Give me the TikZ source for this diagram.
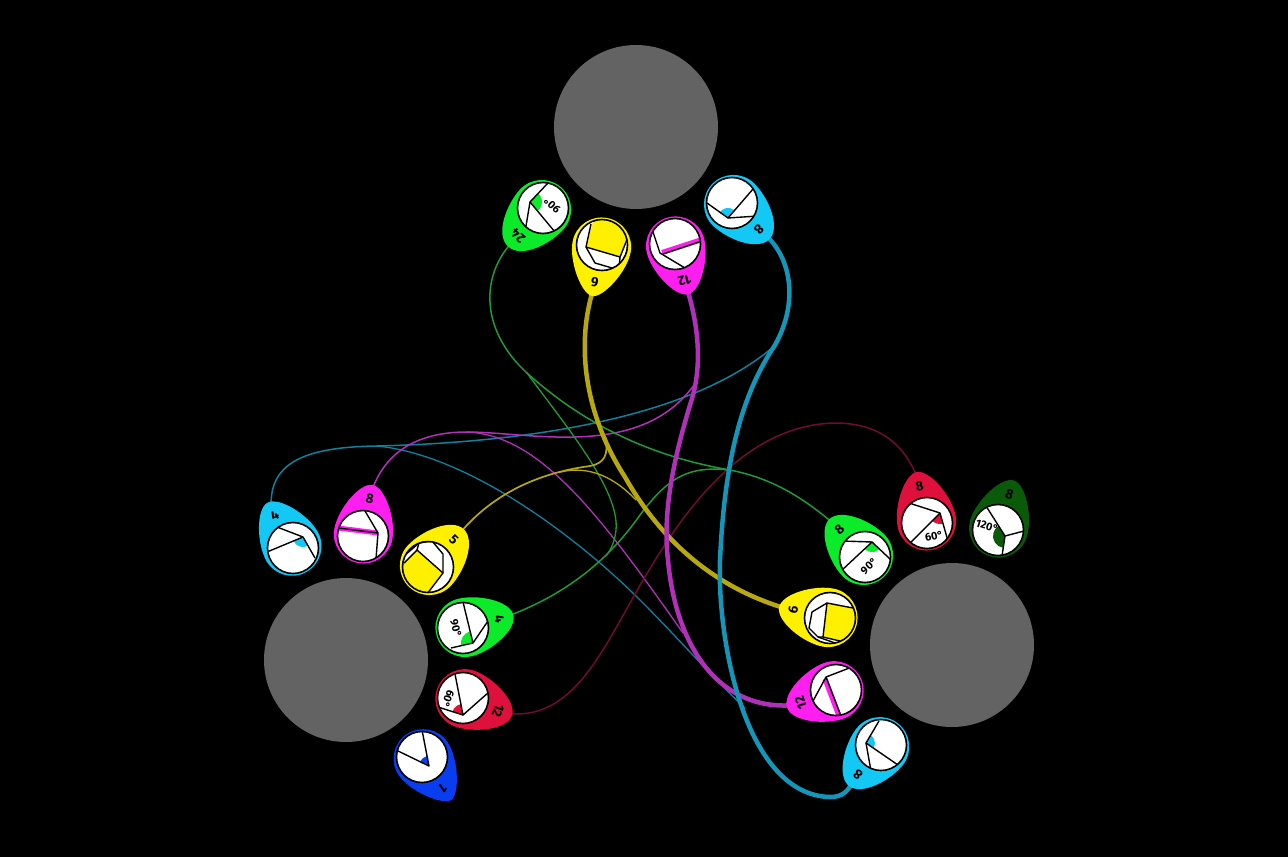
\documentclass[tikz,border=0pt]{standalone}
\usepackage{fontspec}
\setmainfont{Fira Sans}
\usetikzlibrary{backgrounds}
\definecolor{pGreen}{HTML}{0CEB2A}
\definecolor{pYellow}{HTML}{FFF000}
\definecolor{pMag}{HTML}{FF1EF0}
\definecolor{pCyan}{HTML}{14C8F5}
\definecolor{pRed}{HTML}{E0103C}
\definecolor{pBlue}{HTML}{0A3CF0}
\definecolor{pDark}{HTML}{0A5A0A}
\definecolor{hubc}{HTML}{636363}
\definecolor{cGreen}{HTML}{1F9A35}
\definecolor{cYellow}{HTML}{B8A810}
\definecolor{cMag}{HTML}{B030B8}
\definecolor{cTeal}{HTML}{10809F}
\definecolor{cCyan}{HTML}{1595B8}
\definecolor{cRed}{HTML}{700C30}
\tikzset{
  hub/.style={circle,fill=hubc,minimum size=164pt,inner sep=0pt},
  lab/.style={font=\fontsize{13.5}{14}\selectfont\bfseries,text=black,inner sep=0pt},
  angtxt/.style={font=\fontsize{11}{11}\selectfont\bfseries,text=black,inner sep=0pt},
  fold/.style={draw=black,line width=1.4pt,line join=round},
  conn/.style={line cap=round,line join=round},
}
% [tip control] name, cx, cy, rot, colour, label, interior
\newcommand\petal[8][16]{%
  \begin{scope}[shift={(#3,#4)},rotate=#5,y=1pt]
    \fill[#6] (29.5,2) .. controls (29.5,22) and (#1,52) .. (0,52)
       .. controls (-#1,52) and (-29.5,22) .. (-29.5,2)
       arc[start angle=180,end angle=360,radius=29.5pt] -- cycle;
    \coordinate (#2) at (0,44);
    \node[lab,rotate=#5] (#2l) at (0,37.5) {#7};
  \end{scope}
  \begin{scope}
    \clip (#3,#4) circle[radius=25.5pt];
    \fill[white] (#3,#4) circle[radius=25.5pt];
    #8
  \end{scope}
  \draw[black,line width=1.6pt] (#3,#4) circle[radius=25.5pt];
}
\newcommand\wdg[6]{%
  \begin{scope}[shift={(#1,#2)},y=1pt]
    \fill[#6] (0,0) -- (#3:#5) arc[start angle=#3,end angle=#4,radius=#5pt] -- cycle;
  \end{scope}}
\begin{document}
\begin{tikzpicture}[x=1pt,y=-1pt]
\useasboundingbox (0,0) rectangle (1288,857);
\node[hub] (hubT) at (636,127) {};
\node[hub] (hubL) at (346,660) {};
\node[hub] (hubR) at (952,645) {};

% top group
\petal[18]{gA}{543}{208}{138}{pGreen}{24}{%
  \wdg{530}{202}{-50}{46}{12}{pGreen}
  \draw[fold] (548,183) -- (530,202) -- (555,232);
  \draw[fold] (530,202) -- (526,226);
  \node[angtxt,rotate=138] (gAt) at (552,205) {90°};}
\petal[11]{yA}{602}{245}{169}{pYellow}{6}{%
  \fill[pYellow] (586,247) -- (595,215) -- (632,226) -- (628,237) -- (620,257) -- cycle;
  \draw[fold] (591,224) -- (586,247) -- (620,257) -- (628,237);
  \draw[fold] (586,247) -- (595,263) -- (619,270) -- (620,257);}
\petal[13]{mA}{675}{244}{195}{pMag}{12}{%
  \draw[pMag,line width=5pt] (662,252.5) -- (702,239.5);
  \draw[fold] (653,232) -- (660,253) -- (685,268);
  \draw[fold] (663,254) -- (702,241);}
\petal[17]{cA}{732}{203}{226}{pCyan}{8}{%
  \wdg{728}{218}{49}{144}{10}{pCyan}
  \draw[fold] (707,203) -- (728,218) -- (753,189);
  \draw[fold] (728,218) -- (758,216);}

% left group
\petal[13]{cB}{293}{548}{29.5}{pCyan}{4}{%
  \wdg{303}{537}{202}{300}{10}{pCyan}
  \draw[fold] (277,527) -- (303,537) -- (315,558);
  \draw[fold] (303,537) -- (267,552);}
\petal[13]{mB}{363}{536}{-10.6}{pMag}{8}{%
  \draw[pMag,line width=5pt] (338,528) -- (378,533);
  \draw[fold] (365,511) -- (378,533) -- (376,559);
  \draw[fold] (338,528) -- (378,533);}
\petal[17]{yB}{428}{567}{-43.5}{pYellow}{5}{%
  \fill[pYellow] (417,550) -- (443,573) -- (427,595) -- (405,597) -- (396,570) -- (404,563) -- cycle;
  \draw[fold] (404,563) -- (417,550) -- (443,573) -- (427,594);
  \draw[fold] (417,550) -- (419,543) -- (432,541) -- (443,554) -- (443,573);
  \draw[fold] (419,543) -- (404,556);}
\petal[15]{gB}{463}{628}{-75.4}{pGreen}{4}{%
  \wdg{473}{643}{104}{191}{12}{pGreen}
  \draw[fold] (463,602) -- (473,643) -- (490,618);
  \draw[fold] (473,643) -- (451,648);
  \node[angtxt,rotate=-75.4] (gBt) at (456,628) {90°};}
\petal[15]{rB}{463}{698}{-110}{pRed}{12}{%
  \wdg{463}{715}{101}{162}{11}{pRed}
  \draw[fold] (455,674) -- (463,715) -- (489,692);
  \draw[fold] (463,715) -- (438,707);
  \node[angtxt,rotate=-110] (rBt) at (448,699) {60°};}
\petal[10]{bB}{422}{757}{-145.6}{pBlue}{1}{%
  \wdg{429}{766}{101}{155}{10}{pBlue}
  \draw[fold] (422,730) -- (429,766) -- (396,750);}

% right group
\petal[16]{gC}{865}{557}{43}{pGreen}{8}{%
  \wdg{872}{542}{223}{317}{10}{pGreen}
  \draw[fold] (842,541) -- (872,542) -- (890,559);
  \draw[fold] (872,542) -- (841,571);
  \node[angtxt,rotate=43] (gCt) at (869,566) {90°};}
\petal[13]{rC}{927}{523}{11.5}{pRed}{8}{%
  \wdg{940}{513}{225}{285}{11}{pRed}
  \draw[fold] (909,503) -- (940,513) -- (948,541);
  \draw[fold] (940,513) -- (910,543);
  \node[angtxt,rotate=11.5] (rCt) at (934,536) {60°};}
\petal[13]{dC}{998}{530}{-17.7}{pDark}{8}{%
  \wdg{1005}{536}{122}{261}{12}{pDark}
  \draw[fold] (986,506) -- (1005,536) -- (1024,531);
  \draw[fold] (1005,536) -- (1002,556);
  \node[angtxt,rotate=-17.7] (dCt) at (987,526) {120°};}
\petal[14]{yC}{830}{618}{78}{pYellow}{6}{%
  \fill[pYellow] (827,603) -- (853,608) -- (860,612) -- (862,635) -- (840,641) -- (823,637) -- cycle;
  \draw[fold] (853,608) -- (827,603) -- (823,637) -- (840,641);
  \draw[fold] (827,603) -- (812,612) -- (809,628) -- (818,637) -- (823,637);
  \draw[fold] (818,637) -- (838,644);}
\petal[15]{mC}{836}{690}{110}{pMag}{12}{%
  \draw[pMag,line width=5pt] (825,679) -- (839,716);
  \draw[fold] (852,667) -- (826,677) -- (813,701);
  \draw[fold] (826,677) -- (841,716);}
\petal[16]{cC}{881}{745}{142}{pCyan}{8}{%
  \wdg{866}{743}{-34}{60}{9}{pCyan}
  \draw[fold] (879,721) -- (866,743) -- (898,765);
  \draw[fold] (866,743) -- (871,771);}

\begin{scope}[on background layer]
\fill[black] (0,0) rectangle (1288,857);
\coordinate (jT) at (377,446);
\coordinate (jM) at (467,432);
\coordinate (jG) at (527,373);
\coordinate (jY) at (560,472);
\coordinate (jGM) at (730,470);
% thin teal
\draw[conn,cTeal,line width=1.5pt] (cB) .. controls (268,465) and (300,447) .. (jT) .. controls (500,443) and (680,425) .. (772,348);
\draw[conn,cTeal,line width=1.3pt] (jT) .. controls (470,455) and (580,540) .. (640,600) .. controls (680,640) and (710,675) .. (745,708);
% thin magenta
\draw[conn,cMag,line width=1.5pt] (mB) .. controls (385,450) and (420,432) .. (jM) .. controls (530,432) and (640,460) .. (694,385);
\draw[conn,cMag,line width=1.3pt] (jM) .. controls (540,435) and (600,515) .. (683,633);
% red
\draw[conn,cRed,line width=1.5pt] (rB) .. controls (565,722) and (595,665) .. (625,612) .. controls (665,540) and (730,425) .. (835,423) .. controls (880,423) and (905,445) .. (rC);
% green
\draw[conn,cGreen,line width=1.5pt] (gA) .. controls (480,275) and (480,330) .. (jG) .. controls (590,430) and (660,458) .. (jGM) .. controls (770,478) and (800,495) .. (gC);
\draw[conn,cGreen,line width=1.3pt] (jG) .. controls (565,425) and (620,490) .. (616,530) .. controls (615,540) and (612,548) .. (606,556);
\draw[conn,cGreen,line width=1.5pt] (gB) .. controls (560,597) and (605,565) .. (640,515) .. controls (670,475) and (690,466) .. (jGM);
% yellow thin
\draw[conn,cYellow,line width=1.7pt] (yB) .. controls (495,490) and (545,472) .. (590,466) .. controls (605,463) and (608,455) .. (606,438);
\draw[conn,cYellow,line width=1.3pt] (jY) .. controls (590,465) and (615,478) .. (636,500);
% thick
\draw[conn,cYellow,line width=4.5pt] (yA) .. controls (574,350) and (588,420) .. (625,477) .. controls (655,530) and (705,585) .. (yC);
\draw[conn,cMag,line width=4.5pt] (mA) .. controls (700,330) and (702,370) .. (690,405) .. controls (675,455) and (662,510) .. (668,560) .. controls (675,640) and (715,712) .. (mC);
\draw[conn,cCyan,line width=4.5pt] (cA) .. controls (790,255) and (800,300) .. (775,345) .. controls (745,390) and (725,450) .. (720,560) .. controls (717,640) and (745,795) .. (830,797) .. controls (842,797) and (848,792) .. (cC);
\end{scope}
\end{tikzpicture}
\end{document}
